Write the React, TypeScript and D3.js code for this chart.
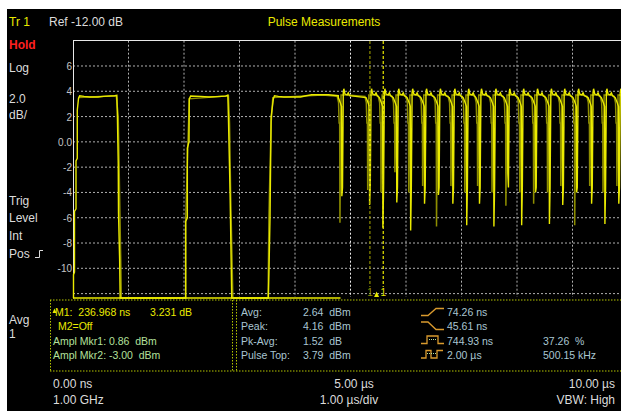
import React from "react";
import * as d3 from "d3";

// levels in dB, time in µs
const gridLevels = [8, 6, 4, 2, 0, -2, -4, -6, -8, -10, -12];
const levelLabels = [6, 4, 2, 0, -2, -4, -6, -8, -10];
const gridTimes = [1, 2, 3, 4, 5, 6, 7, 8, 9];
const floorLevel = -12.35;

// the three slow pulses at the left
const slowBright: [number, number][] = [
    [0, -12.35], [0.009, -12.35], [0.009, -10.5], [0.027, -10.3], [0.027, -5.5],
    [0.054, -5.3], [0.054, -1.5], [0.077, -1.3], [0.077, 2.5], [0.1, 3.45],
    [0.12, 3.65], [0.2, 3.6], [0.3, 3.55], [0.45, 3.55], [0.55, 3.6],
    [0.75, 3.65], [0.79, 3.68], [0.8, 2.0], [0.815, -1.7], [0.82, -5.6],
    [0.84, -9.3], [0.85, -12.35],
    [2.03, -12.35], [2.03, -6.3], [2.06, -6.0], [2.06, -0.5], [2.09, 0],
    [2.095, 3.4], [2.12, 3.62], [2.3, 3.6], [2.45, 3.55], [2.6, 3.58],
    [2.75, 3.62], [2.79, 3.7], [2.8, 2.0], [2.83, -4], [2.86, -12.35],
    [3.52, -12.35], [3.53, -10.4], [3.55, -6], [3.57, 2], [3.61, 3.4],
    [3.63, 3.65], [3.7, 3.6], [3.8, 3.55], [4.1, 3.55], [4.2, 3.65],
    [4.3, 3.73], [4.6, 3.73], [4.78, 3.65],
];

const slowOlive: [number, number][] = [
    [0.1, 3.5], [0.3, 3.55], [0.78, 3.65], [0.815, 2.0], [0.83, -1.7],
    [0.845, -5.6], [0.86, -9.3], [0.87, -12.35],
    [2.03, -12.35], [2.03, -6.3], [2.095, 3.4], [2.5, 3.55], [2.8, 3.65],
    [2.82, 1.5], [2.84, -4], [2.88, -12.35],
    [3.515, -12.35], [3.53, -6], [3.55, -2], [3.57, 1.5], [3.6, 3.5],
    [4.5, 3.7], [4.76, 3.6],
];

// fast pulse train: dip positions and how deep each trace falls
const dipTimes = [4.85, 5.35, 5.59, 5.84, 6.09, 6.34, 6.59, 6.85, 7.1, 7.33,
    7.59, 7.84, 8.09, 8.34, 8.59, 8.83, 9.08, 9.35, 9.59, 9.84];
const dipDepthsBright = [-4.3, -5.0, -6.8, -4.8, -7.0, -4.9, -4.2, -4.9, -6.6, -4.9,
    -6.7, -2.5, -6.6, -4.0, -6.5, -5.0, -4.0, -4.9, -6.5, -4.9];
const dipDepthsOlive = [-6.4, -3.8, -4.0, -2.4, -4.0, -3.5, -6.7, -3.5, -4.0, -3.5,
    -4.0, -5.05, -4.0, -4.9, -4.0, -3.5, -6.6, -3.5, -4.0, -3.5];

const markerTimes = [5.35, 5.59];

const leftLabels = [
    {text: "Log", y: 72},
    {text: "2.0", y: 103},
    {text: "dB/", y: 119},
    {text: "Trig", y: 205},
    {text: "Level", y: 222},
    {text: "Int", y: 240},
    {text: "Pos", y: 258},
    {text: "Avg", y: 324},
    {text: "1", y: 338},
];

const markerLines = ["M1:  236.968 ns", " M2=Off"];
const amplLines = ["Ampl Mkr1: 0.86  dBm", "Ampl Mkr2: -3.00  dBm"];
const statNames = ["Avg:", "Peak:", "Pk-Avg:", "Pulse Top:"];
const statValues = ["2.64  dBm", "4.16  dBm", "1.52  dB", "3.79  dBm"];
const timingValues = ["74.26 ns", "45.61 ns", "744.93 ns", "2.00 µs"];

const YELLOW = "#eaea00";
const OLIVE = "#8e8e00";
const TEXT = "#dcdcdc";
const BLUE = "#a9c6d2";
const GREEN = "#b4e09c";
const ORANGE = "#d99a2e";
const FONT = "'Liberation Sans', Arial, sans-serif";

function fastBright(): [number, number][] {
    const pts: [number, number][] = [];
    dipTimes.forEach((d, i) => {
        pts.push([d - 0.07, 3.5], [d - 0.03, 3.05], [d - 0.012, 2.8]);
        pts.push([d - 0.006, dipDepthsBright[i]], [d + 0.006, -3.6]);
        pts.push([d + 0.02, 3.9], [d + 0.03, 4.2], [d + 0.05, 3.78]);
        pts.push([d + 0.09, 3.72], [d + 0.11, 3.88], [d + 0.13, 3.66]);
    });
    pts.push([10, 3.66]);
    return pts;
}

function fastOlive(): [number, number][] {
    const pts: [number, number][] = [];
    dipTimes.forEach((d, i) => {
        pts.push([d - 0.09, 3.6], [d - 0.065, 3.1], [d - 0.055, 1.5]);
        pts.push([d - 0.045, 1.5], [d - 0.04, dipDepthsOlive[i]], [d - 0.03, -0.4]);
        pts.push([d - 0.02, 3.7], [d + 0.1, 3.7]);
    });
    pts.push([10, 3.7]);
    return pts;
}

export default function App() {
    const x = d3.scaleLinear().domain([0, 10]).range([73, 628]);
    const y = d3.scaleLinear().domain([-12, 8]).range([293.6, 40.7]);
    const line = d3.line<[number, number]>().x((d) => x(d[0])).y((d) => y(d[1]));

    const olivePath = line(slowOlive.concat(fastOlive())) || "";
    const brightPath = line(slowBright.concat(fastBright())) || "";
    const floorPath = line([[0.009, floorLevel], [4.82, floorLevel]]) || "";

    return (
        <div style={{position: "absolute", left: 0, top: 0}}>
            <svg width={621} height={411} style={{display: "block", background: "#fff"}}>
                <rect x={7} y={9} width={614} height={402} fill="#000" />

                {/* header */}
                <text x={9} y={26} fill={YELLOW} fontSize={12} fontFamily={FONT}>Tr 1</text>
                <text x={49} y={26} fill={TEXT} fontSize={12} fontFamily={FONT}>Ref -12.00 dB</text>
                <text x={324} y={26} fill={YELLOW} fontSize={12} fontFamily={FONT} textAnchor="middle">
                    Pulse Measurements
                </text>
                <text x={9} y={49} fill="#ff2020" fontSize={12} fontWeight="bold" fontFamily={FONT}>Hold</text>
                {leftLabels.map((l) => (
                    <text key={l.text + l.y} x={9} y={l.y} fill={TEXT} fontSize={12} fontFamily={FONT}>
                        {l.text}
                    </text>
                ))}
                <path d="M35,257.5 H39.5 V250.5 H43" fill="none" stroke={TEXT} strokeWidth={1} />

                {/* grid */}
                {gridLevels.slice(1).map((v) => (
                    <line key={"h" + v} x1={73} x2={621} y1={y(v)} y2={y(v)}
                          stroke="#b0b0b0" strokeDasharray="2,2" />
                ))}
                {gridTimes.map((t) => (
                    <line key={"v" + t} x1={x(t)} x2={x(t)} y1={40.7} y2={297}
                          stroke={t === 5 ? "#f0f0f0" : "#b0b0b0"} strokeDasharray="2,2" />
                ))}
                {levelLabels.map((v) => (
                    <text key={"l" + v} x={72} y={y(v) + 4} fill="#c4c4c4" fontSize={10}
                          fontFamily={FONT} textAnchor="end">
                        {v === 0 ? "0.0" : String(v)}
                    </text>
                ))}
                <line x1={73} x2={621} y1={40.5} y2={40.5} stroke="#e8e8e8" />
                <line x1={73.5} x2={73.5} y1={40} y2={298} stroke="#e8e8e8" />

                {/* traces */}
                <path d={olivePath} fill="none" stroke={OLIVE} strokeWidth={1.5} />
                <path d={floorPath} fill="none" stroke={YELLOW} strokeWidth={1.4} />
                <path d={brightPath} fill="none" stroke={YELLOW} strokeWidth={1.4} />

                {/* markers */}
                {markerTimes.map((t, i) => (
                    <g key={"m" + i}>
                        <line x1={x(t)} x2={x(t)} y1={41} y2={287} stroke={i === 0 ? OLIVE : YELLOW}
                              strokeDasharray="3,2" strokeWidth={1.2} />
                        <text x={x(t)} y={296} fill={i === 0 ? OLIVE : YELLOW} fontSize={10}
                              fontFamily={FONT} textAnchor="middle">1</text>
                    </g>
                ))}
                <path d={`M${x(5.47) - 2.5},297 L${x(5.47)},291.5 L${x(5.47) + 2.5},297 Z`} fill={YELLOW} />

                {/* measurement panel */}
                <line x1={50} x2={621} y1={300} y2={300} stroke="#b4c400" strokeDasharray="1.5,1.5" />
                <line x1={50} x2={621} y1={371} y2={371} stroke="#b4c400" strokeDasharray="1.5,1.5" />
                <line x1={50.5} x2={50.5} y1={300} y2={371} stroke="#b4c400" strokeDasharray="1.5,1.5" />
                <line x1={232.5} x2={232.5} y1={300} y2={371} stroke="#b4c400" strokeDasharray="1.5,1.5" />
                <line x1={236.5} x2={236.5} y1={300} y2={371} stroke="#b4c400" strokeDasharray="1.5,1.5" />

                <path d="M52.5,313 L54.5,308.5 L56.5,313 Z" fill={YELLOW} />
                {markerLines.map((s, i) => (
                    <text key={s} x={55} y={316 + i * 14.4} fill={YELLOW} fontSize={10.5}
                          fontFamily={FONT} style={{whiteSpace: "pre"}}>{s}</text>
                ))}
                <text x={150} y={316} fill={YELLOW} fontSize={10.5} fontFamily={FONT}>3.231 dB</text>
                {amplLines.map((s, i) => (
                    <text key={s} x={53} y={345 + i * 14.4} fill={GREEN} fontSize={10.5}
                          fontFamily={FONT} style={{whiteSpace: "pre"}}>{s}</text>
                ))}
                {statNames.map((s, i) => (
                    <text key={s} x={241} y={316 + i * 14.4} fill={BLUE} fontSize={10.5}
                          fontFamily={FONT}>{s}</text>
                ))}
                {statValues.map((s, i) => (
                    <text key={s} x={303} y={316 + i * 14.4} fill={BLUE} fontSize={10.5}
                          fontFamily={FONT} style={{whiteSpace: "pre"}}>{s}</text>
                ))}
                {timingValues.map((s, i) => (
                    <text key={s} x={447} y={316 + i * 14.4} fill={BLUE} fontSize={10.5}
                          fontFamily={FONT}>{s}</text>
                ))}
                <text x={543} y={345} fill={BLUE} fontSize={10.5} fontFamily={FONT}
                      style={{whiteSpace: "pre"}}>37.26  %</text>
                <text x={543} y={359.4} fill={BLUE} fontSize={10.5} fontFamily={FONT}>500.15 kHz</text>

                {/* timing icons */}
                <path d="M421,315.5 H428 L436,308.5 H444" fill="none" stroke={ORANGE} strokeWidth={1.3} />
                <path d="M421,322 H428 L436,329.5 H444" fill="none" stroke={ORANGE} strokeWidth={1.3} />
                <path d="M421,343.5 H427 V336 H438 V343.5 H444" fill="none" stroke={ORANGE} strokeWidth={1.3} />
                <line x1={429} x2={436} y1={339.5} y2={339.5} stroke={GREEN} strokeDasharray="1,1" />
                <path d="M421,358 H426 V350.5 H431 V358 H437 V350.5 H443" fill="none" stroke={ORANGE} strokeWidth={1.3} />
                <line x1={427} x2={436} y1={353.5} y2={353.5} stroke={GREEN} strokeDasharray="1,1" />

                {/* footer */}
                <text x={53} y={388} fill={TEXT} fontSize={12} fontFamily={FONT}>0.00 ns</text>
                <text x={53} y={404} fill={TEXT} fontSize={12} fontFamily={FONT}>1.00 GHz</text>
                <text x={354} y={388} fill={TEXT} fontSize={12} fontFamily={FONT} textAnchor="middle">5.00 µs</text>
                <text x={349} y={404} fill={TEXT} fontSize={12} fontFamily={FONT} textAnchor="middle">1.00 µs/div</text>
                <text x={615} y={388} fill={TEXT} fontSize={12} fontFamily={FONT} textAnchor="end">10.00 µs</text>
                <text x={615} y={404} fill={TEXT} fontSize={12} fontFamily={FONT} textAnchor="end">VBW: High</text>
            </svg>
        </div>
    );
}
